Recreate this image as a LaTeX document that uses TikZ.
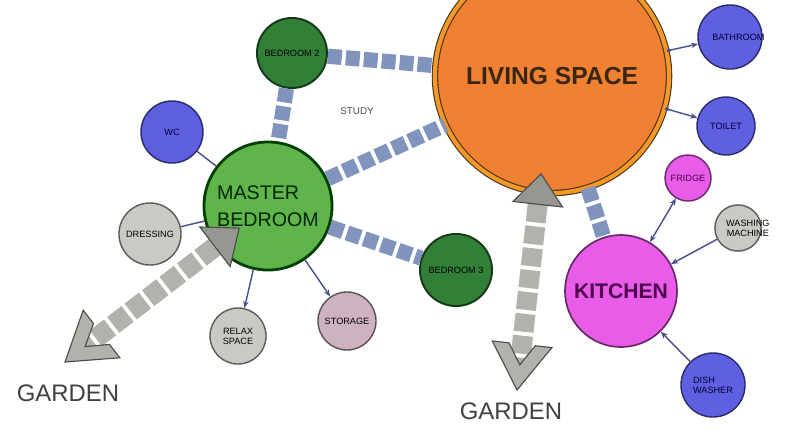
\documentclass[tikz,border=0pt]{standalone}
\usepackage{fontspec}
\setmainfont{Liberation Sans}
\usetikzlibrary{arrows.meta,positioning}
\definecolor{livingorange}{RGB}{240,128,50}
\definecolor{mastergreen}{RGB}{95,180,75}
\definecolor{bedgreen}{RGB}{50,128,55}
\definecolor{roomblue}{RGB}{95,95,225}
\definecolor{roomgray}{RGB}{202,202,197}
\definecolor{roommauve}{RGB}{205,178,192}
\definecolor{kitchenpink}{RGB}{232,92,232}
\definecolor{linkblue}{RGB}{70,78,140}
\definecolor{corridorblue}{RGB}{128,148,190}
\definecolor{gardengray}{RGB}{178,178,172}

% blunt V-shaped head for the garden routes
\pgfdeclarearrow{
  name = Chevron,
  parameters = {\the\pgfarrowlength,\the\pgfarrowwidth,\the\pgfarrowlinewidth},
  setup code = {
    \pgfarrowssettipend{0pt}
    \pgfarrowssetlineend{-0.55\pgfarrowlength}
    \pgfarrowssetvisualbackend{-\pgfarrowlength}
    \pgfarrowssetbackend{-\pgfarrowlength}
    \pgfarrowssavethe\pgfarrowlength
    \pgfarrowssavethe\pgfarrowwidth
    \pgfarrowssavethe\pgfarrowlinewidth
  },
  drawing code = {
    \pgfsetlinewidth{\pgfarrowlinewidth}
    \pgfsetdash{}{0pt}
    \pgfsetmiterjoin
    \pgfpathmoveto{\pgfpointorigin}
    \pgfpathlineto{\pgfpoint{-\pgfarrowlength}{0.5\pgfarrowwidth}}
    \pgfpathlineto{\pgfpoint{-\pgfarrowlength}{0.22\pgfarrowwidth}}
    \pgfpathlineto{\pgfpoint{-0.55\pgfarrowlength}{0pt}}
    \pgfpathlineto{\pgfpoint{-\pgfarrowlength}{-0.22\pgfarrowwidth}}
    \pgfpathlineto{\pgfpoint{-\pgfarrowlength}{-0.5\pgfarrowwidth}}
    \pgfpathclose
    \pgfusepathqfillstroke
  },
  defaults = {length=1cm, width=1.4cm, line width=0.8pt}
}

\begin{document}
\begin{tikzpicture}[x=0.025cm, y=-0.025cm,
  room/.style={circle, draw=#1!45!black, fill=#1, line width=1pt, inner sep=-2pt,
               align=center, font=\fontsize{6.5}{7}\selectfont},
  corridor/.style={draw=corridorblue, line width=0.38cm, dash pattern=on 0.35cm off 0.1cm},
  garden/.style={draw=gardengray, line width=0.5cm, dash pattern=on 0.45cm off 0.1cm,
                 arrows={Triangle[length=0.8cm, width=1.3cm, fill=gardengray!85!black, color=black!70, line width=0.8pt]-Chevron[length=1.15cm, width=1.5cm, fill=gardengray, color=black!70, line width=0.8pt]}},
  link/.style={draw=linkblue, line width=1pt},
  gardentext/.style={font=\fontsize{17}{17}\selectfont, text=black!75}]
  \useasboundingbox (0,0) rectangle (786,428);

  % corridors and garden routes sit behind the rooms
  \coordinate (gl) at (65,362);
  \coordinate (gb) at (517,390);

  \node[room=livingorange, minimum size=5.85cm, draw=brown!40!black, line width=0.8pt,
        double=livingorange!80!yellow, double distance=3pt,
        font=\fontsize{17.5}{18}\selectfont\bfseries, text=brown!30!black] (living) at (552,76)
       {\raisebox{-4pt}{LIVING SPACE}};
  \node[room=bedgreen, minimum size=1.75cm, line width=1.4pt] (bed2) at (292,53) {BEDROOM 2};
  \node[room=mastergreen, minimum size=3.2cm, line width=2pt, draw=green!25!black,
        font=\fontsize{14}{19}\selectfont, text=green!15!black, align=left] (master) at (268,206)
       {MASTER\\BEDROOM};
  \node[room=bedgreen, minimum size=1.8cm, line width=1.4pt] (bed3) at (456,270) {BEDROOM 3};
  \node[room=kitchenpink, minimum size=2.8cm, line width=1.2pt,
        font=\fontsize{15}{16}\selectfont\bfseries, text=violet!60!black] (kitchen) at (621,291) {KITCHEN};

  \draw[corridor] (bed2) -- (living);
  \draw[corridor] (bed2) -- (master);
  \draw[corridor] (master) -- (living);
  \draw[corridor] (master) -- (bed3);
  \draw[corridor] (living) -- (kitchen);

  \draw[garden, shorten <=-0.75cm] (master) -- (gl);
  \draw[garden, shorten <=-0.5cm] (living) -- (gb);

  % small rooms
  \node[room=roomblue, minimum size=1.55cm, text=blue!20!black] (wc) at (172,132) {WC};
  \node[room=roomgray, minimum size=1.55cm] (dressing) at (150,234) {DRESSING};
  \node[room=roomgray, minimum size=1.4cm] (relax) at (238,336) {RELAX\\SPACE};
  \node[room=roommauve, minimum size=1.45cm] (storage) at (347,321) {STORAGE};
  \node[room=roomblue, minimum size=1.6cm, text=blue!20!black] (bathroom) at (730,37) {\hspace*{12pt}BATHROOM};
  \node[room=roomblue, minimum size=1.45cm, text=blue!20!black] (toilet) at (726,126) {TOILET};
  \node[room=kitchenpink, minimum size=1.15cm, text=violet!60!black] (fridge) at (688,178) {FRIDGE};
  \node[room=roomgray, minimum size=1.15cm, inner sep=-6pt] (washing) at (738,228) {\hspace*{14pt}WASHING\\\hspace*{14pt}MACHINE};
  \node[room=roomblue, minimum size=1.6cm, text=blue!20!black, align=left] (dish) at (713,385) {DISH\\WASHER};

  \draw[link] (wc) -- (master);
  \draw[link] (dressing) -- (master);
  \draw[link, -{Stealth[length=5pt, width=4pt]}] (master) -- (relax);
  \draw[link, -{Stealth[length=5pt, width=4pt]}] (master) -- (storage);
  \draw[link, {Circle[length=3pt]}-{Stealth[length=5pt, width=4pt]}] (living) -- (bathroom);
  \draw[link, {Circle[length=3pt]}-{Stealth[length=5pt, width=4pt]}] (living) -- (toilet);
  \draw[link, {Stealth[length=5pt, width=4pt]}-{Stealth[length=5pt, width=4pt]}] (kitchen) -- (fridge);
  \draw[link, -{Stealth[length=5pt, width=4pt]}] (washing) -- (kitchen);
  \draw[link, -{Stealth[length=5pt, width=4pt]}] (dish) -- (kitchen);

  % labels
  \node[font=\fontsize{7}{7}\selectfont, text=black!70] (study) at (357,111) {STUDY};
  \node[gardentext] (gardenl) at (68,393) {GARDEN};
  \node[gardentext] (gardenb) at (511,411) {GARDEN};
\end{tikzpicture}
\end{document}
